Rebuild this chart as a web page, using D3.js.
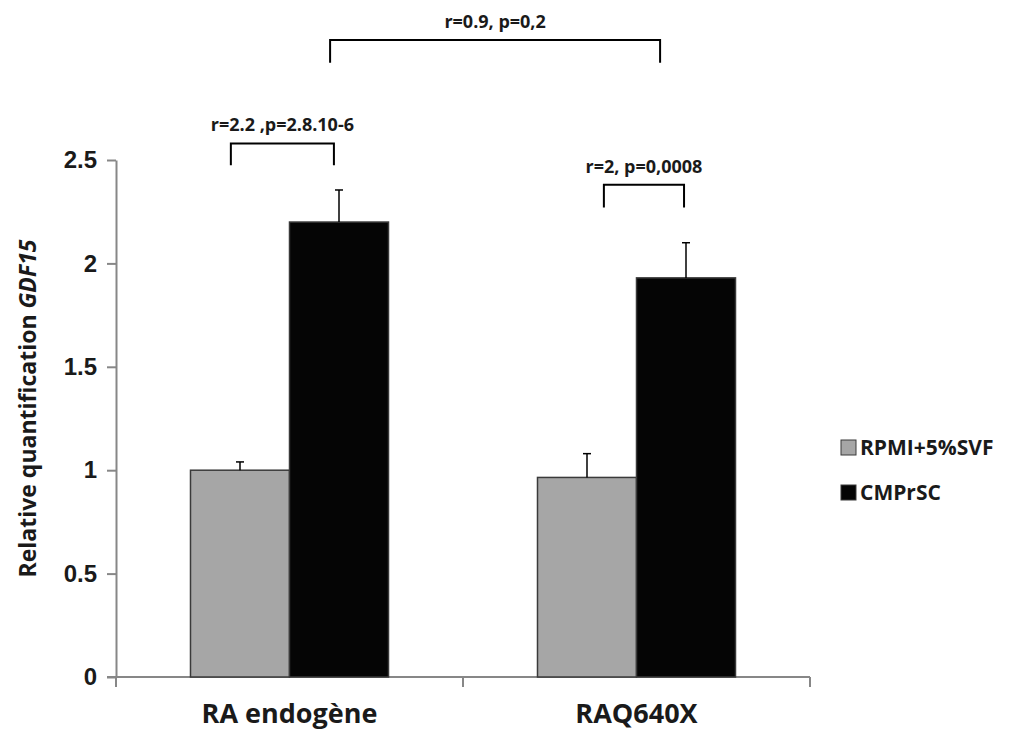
<!DOCTYPE html>
<html>
<head>
<meta charset="utf-8">
<script src="https://cdn.jsdelivr.net/npm/d3@7"></script>
<style>
    body { margin: 0; background: #fff; }
    svg { display: block; font-family: "Open Sans", "Noto Sans", sans-serif; font-weight: bold; }
    .axis path, .axis line { stroke: #878787; stroke-width: 2; }
    .axis text { fill: #1a1a1a; }
</style>
</head>
<body>
<div class="osvg"></div>
<script>
    var categories = ["RA endogène", "RAQ640X"];
    var series = ["RPMI+5%SVF", "CMPrSC"];
    var means = {
        "RPMI+5%SVF": [1.0, 0.965],
        "CMPrSC": [2.2, 1.93]
    };
    var errors = {
        "RPMI+5%SVF": [0.04, 0.115],
        "CMPrSC": [0.155, 0.17]
    };
    var yTicks = [0, 0.5, 1, 1.5, 2, 2.5];
    // brackets: x in category units (0..2), y in value units
    var brackets = [
        { x1: 0.331, x2: 0.628, top: 2.58, bottom: 2.475, label: "r=2.2 ,p=2.8.10-6" },
        { x1: 1.406, x2: 1.637, top: 2.38, bottom: 2.27, label: "r=2, p=0,0008" },
        { x1: 0.617, x2: 1.568, top: 3.08, bottom: 2.97, label: "r=0.9, p=0,2" }
    ];

(function () {

    var colors = { "RPMI+5%SVF": "#a6a6a6", "CMPrSC": "#050505" };

    var W = 1018, H = 733;
    var m = { left: 116, right: 810, top: 160, bottom: 677 };

    var svg = d3.select('.osvg').append("svg")
        .attr("width", W)
        .attr("height", H);

    var y = d3.scaleLinear()
        .domain([0, 2.5])
        .range([m.bottom, m.top]);

    var x0 = d3.scaleBand()
        .domain(categories)
        .range([m.left, m.right]);

    var x1 = d3.scaleBand()
        .domain(series)
        .range([0, x0.bandwidth()])
        .paddingOuter(0.7525);

    var xc = d3.scaleLinear()
        .domain([0, categories.length])
        .range([m.left, m.right]);

    // y axis
    var yAxis = svg.append("g")
        .attr("class", "axis axis--y")
        .attr("transform", "translate(" + m.left + ",0)")
        .call(d3.axisLeft(y).tickValues(yTicks).tickSize(9).tickSizeOuter(0).tickPadding(10).tickFormat(function (d) { return d; }));
    yAxis.selectAll("text").style("font-size", "24px");

    // x axis: line + boundary ticks + labels
    var xAxis = svg.append("g")
        .attr("class", "axis axis--x")
        .attr("transform", "translate(0," + m.bottom + ")");

    xAxis.append("line")
        .attr("x1", m.left - 9).attr("x2", m.right)
        .attr("y1", 0).attr("y2", 0);

    xAxis.selectAll(".bound")
        .data(d3.range(categories.length + 1))
        .enter().append("line")
        .attr("class", "bound")
        .attr("x1", function (d) { return xc(d); })
        .attr("x2", function (d) { return xc(d); })
        .attr("y1", 0).attr("y2", 10);

    xAxis.selectAll(".cat")
        .data(categories)
        .enter().append("text")
        .attr("class", "cat")
        .attr("x", function (d) { return x0(d) + x0.bandwidth() / 2; })
        .attr("y", 46)
        .attr("text-anchor", "middle")
        .style("font-size", "27px")
        .text(function (d) { return d; });

    // bars
    var groups = svg.selectAll(".grp")
        .data(categories)
        .enter().append("g")
        .attr("class", "grp")
        .attr("transform", function (d) { return "translate(" + x0(d) + ",0)"; });

    var rows = function (c, i) {
        return series.map(function (s) { return { s: s, v: means[s][i], e: errors[s][i] }; });
    };

    groups.selectAll("rect")
        .data(rows)
        .enter().append("rect")
        .attr("x", function (d) { return x1(d.s); })
        .attr("y", function (d) { return y(d.v); })
        .attr("width", x1.bandwidth())
        .attr("height", function (d) { return y(0) - y(d.v); })
        .attr("fill", function (d) { return colors[d.s]; })
        .attr("stroke", "#3a3a3a")
        .attr("stroke-width", 1.5);

    // error bars (upper only)
    var eb = groups.selectAll(".err")
        .data(rows)
        .enter().append("g")
        .attr("class", "err")
        .attr("stroke", "#000")
        .attr("stroke-width", 1.5);

    eb.append("line")
        .attr("x1", function (d) { return x1(d.s) + x1.bandwidth() / 2; })
        .attr("x2", function (d) { return x1(d.s) + x1.bandwidth() / 2; })
        .attr("y1", function (d) { return y(d.v); })
        .attr("y2", function (d) { return y(d.v + d.e); });

    eb.append("line")
        .attr("x1", function (d) { return x1(d.s) + x1.bandwidth() / 2 - 4; })
        .attr("x2", function (d) { return x1(d.s) + x1.bandwidth() / 2 + 4; })
        .attr("y1", function (d) { return y(d.v + d.e); })
        .attr("y2", function (d) { return y(d.v + d.e); });

    // brackets
    var br = svg.selectAll(".bracket")
        .data(brackets)
        .enter().append("g")
        .attr("class", "bracket");

    br.append("path")
        .attr("fill", "none")
        .attr("stroke", "#000")
        .attr("stroke-width", 2)
        .attr("d", function (d) {
            return "M" + xc(d.x1) + "," + y(d.bottom) + "V" + y(d.top) + "H" + xc(d.x2) + "V" + y(d.bottom);
        });

    br.append("text")
        .attr("x", function (d) { return (xc(d.x1) + xc(d.x2)) / 2; })
        .attr("y", function (d) { return y(d.top) - 12; })
        .attr("text-anchor", "middle")
        .style("font-size", "18px")
        .attr("fill", "#1a1a1a")
        .text(function (d) { return d.label; });

    // y axis title
    var title = svg.append("text")
        .attr("transform", "translate(36," + ((m.top + m.bottom) / 2 - 10) + ") rotate(-90)")
        .attr("text-anchor", "middle")
        .style("font-size", "23px")
        .attr("fill", "#1a1a1a");
    title.append("tspan").text("Relative quantification ");
    title.append("tspan").style("font-style", "italic").text("GDF15");

    // legend
    var legend = svg.selectAll(".legend")
        .data(series)
        .enter().append("g")
        .attr("class", "legend")
        .attr("transform", function (d, i) { return "translate(841," + (440 + i * 45) + ")"; });

    legend.append("rect")
        .attr("width", 15)
        .attr("height", 15)
        .attr("fill", function (d) { return colors[d]; })
        .attr("stroke", "#3a3a3a")
        .attr("stroke-width", 1);

    legend.append("text")
        .attr("x", 19)
        .attr("y", 8)
        .attr("dy", "0.35em")
        .style("font-size", "21px")
        .attr("fill", "#1a1a1a")
        .text(function (d) { return d; });

})();
</script>
</body>
</html>
